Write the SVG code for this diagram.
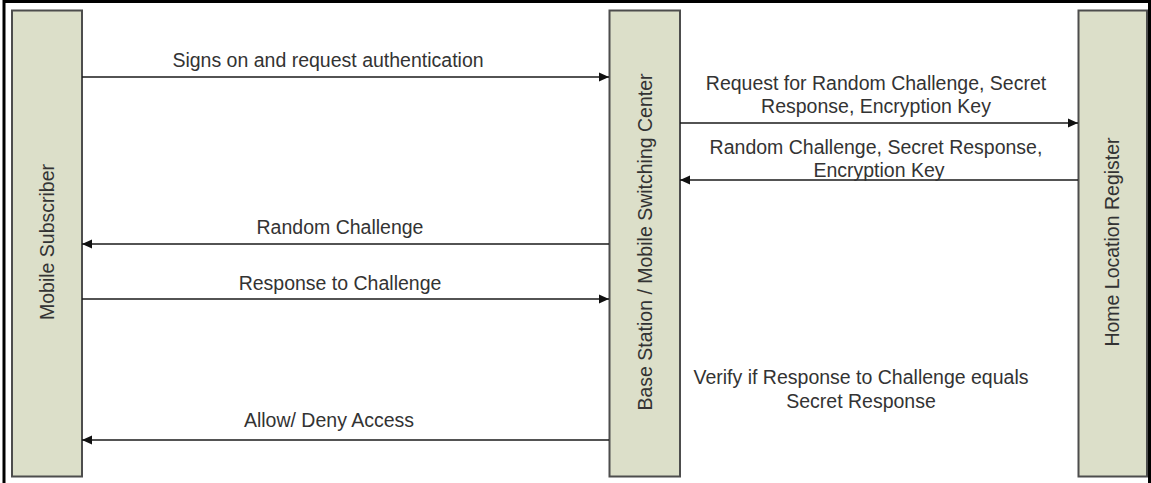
<svg xmlns="http://www.w3.org/2000/svg" width="1151" height="483" viewBox="0 0 1151 483">
<style>
.box{fill:#DCDFC9;stroke:#4d4d4d;stroke-width:2}
.lbl{font-family:"Liberation Sans",Arial,sans-serif;font-size:19.5px;fill:#333;text-anchor:middle}
.conn{stroke:#1a1a1a;stroke-width:1.6;fill:none}
</style>
<defs>
<marker id="ah" viewBox="0 0 10 10" refX="10" refY="5" markerWidth="10" markerHeight="10" markerUnits="userSpaceOnUse" orient="auto">
<path d="M0,0.5 L10,5 L0,9.5 Z" fill="#111"/>
</marker>
</defs>
<rect width="1151" height="483" fill="#fff"/>
<path d="M4,483 V1.5 H1149.5 V483" fill="none" stroke="#000" stroke-width="3"/>
<g id="mobile-subscriber">
<rect class="box" x="12" y="10.5" width="70" height="466"/>
<text class="lbl" transform="translate(54,242) rotate(-90)">Mobile Subscriber</text>
</g>
<g id="base-station">
<rect class="box" x="609.5" y="10.5" width="70.5" height="466"/>
<text class="lbl" transform="translate(652,242) rotate(-90)">Base Station / Mobile Switching Center</text>
</g>
<g id="hlr">
<rect class="box" x="1078.5" y="10.5" width="68.5" height="466"/>
<text class="lbl" transform="translate(1119,242) rotate(-90)">Home Location Register</text>
</g>
<g id="connectors">
<line class="conn" x1="82" y1="77" x2="609" y2="77" marker-end="url(#ah)"/>
<line class="conn" x1="680" y1="123" x2="1078" y2="123" marker-end="url(#ah)"/>
<line class="conn" x1="1078" y1="180" x2="680" y2="180" marker-end="url(#ah)"/>
<line class="conn" x1="609" y1="244" x2="82" y2="244" marker-end="url(#ah)"/>
<line class="conn" x1="82" y1="299" x2="609" y2="299" marker-end="url(#ah)"/>
<line class="conn" x1="609" y1="440" x2="82" y2="440" marker-end="url(#ah)"/>
</g>
<g id="labels">
<text class="lbl" x="328" y="67">Signs on and request authentication</text>
<text class="lbl" x="876" y="90">Request for Random Challenge, Secret</text>
<text class="lbl" x="876" y="113">Response, Encryption Key</text>
<text class="lbl" x="876" y="154">Random Challenge, Secret Response,</text>
<text class="lbl" x="879" y="177">Encryption Key</text>
<text class="lbl" x="340" y="234">Random Challenge</text>
<text class="lbl" x="340" y="290">Response to Challenge</text>
<text class="lbl" x="861" y="384">Verify if Response to Challenge equals</text>
<text class="lbl" x="861" y="408">Secret Response</text>
<text class="lbl" x="329" y="427">Allow/ Deny Access</text>
</g>
</svg>
